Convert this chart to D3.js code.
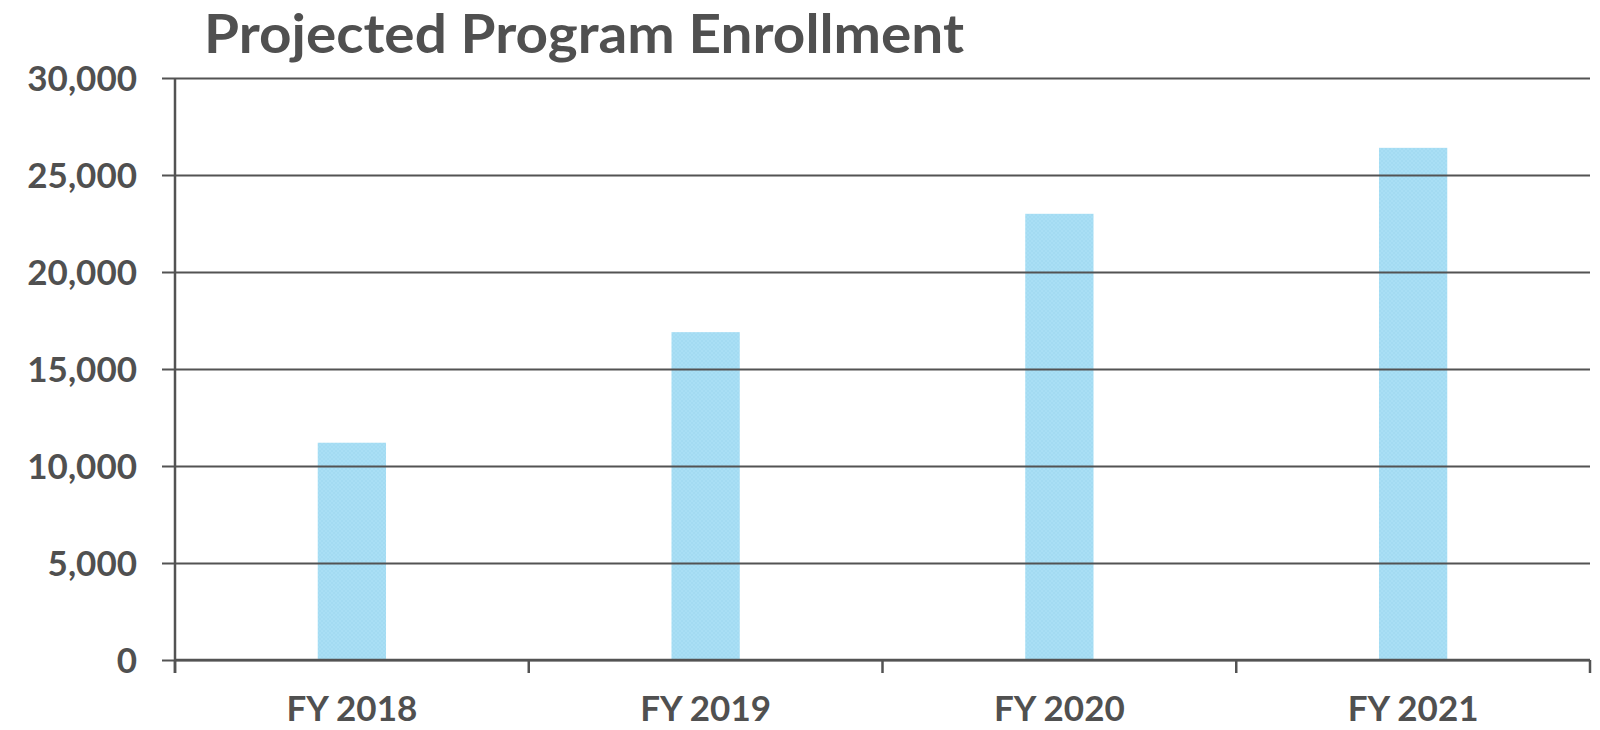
<!DOCTYPE html>
<html>
<head>
<meta charset="utf-8">
<script src="https://cdn.jsdelivr.net/npm/d3@7"></script>
<style>
  html, body { margin: 0; padding: 0; background: #fff; }
  svg { display: block; }
  text { font-family: Lato, "Open Sans", sans-serif; font-weight: bold; fill: #505050; }
</style>
</head>
<body>
<svg id="chart" width="1600" height="730"></svg>
<script>
'use strict';

let title = 'Projected Program Enrollment';
let categories = ['FY 2018', 'FY 2019', 'FY 2020', 'FY 2021'];
let enrollment = [11200, 16900, 23000, 26400];
let yTicks = [0, 5000, 10000, 15000, 20000, 25000, 30000];

let width = 1600, height = 730;
let margin = {top: 78, right: 10, bottom: 70, left: 175};
let plotW = width - margin.left - margin.right;
let plotH = height - margin.top - margin.bottom;
let tickLen = 13;
let ink = '#535353';

let svg = d3.select('#chart');

// checkered fill, close to the original's faint pattern
let defs = svg.append('defs');
let pat = defs.append('pattern')
	.attr('id', 'barFill')
	.attr('width', 4)
	.attr('height', 4)
	.attr('patternUnits', 'userSpaceOnUse');
pat.append('rect').attr('width', 4).attr('height', 4).attr('fill', '#a9dff5');
pat.append('rect').attr('width', 2).attr('height', 2).attr('fill', '#a3dbf2');
pat.append('rect').attr('x', 2).attr('y', 2).attr('width', 2).attr('height', 2).attr('fill', '#a3dbf2');

let x = d3.scaleBand()
	.domain(categories)
	.range([0, plotW])
	.paddingInner(0.807)
	.paddingOuter(0.4035);

let band = d3.scaleBand().domain(categories).range([0, plotW]);

let y = d3.scaleLinear()
	.domain([0, 30000])
	.range([plotH, 0]);

let g = svg.append('g')
	.attr('transform', `translate(${margin.left},${margin.top})`);

// bars
g.selectAll('rect.bar')
	.data(enrollment)
	.join('rect')
	.attr('class', 'bar')
	.attr('x', (d, i) => x(categories[i]))
	.attr('y', d => y(d))
	.attr('width', x.bandwidth())
	.attr('height', d => y(0) - y(d))
	.attr('fill', 'url(#barFill)');

// y axis + gridlines
let yAxis = g.append('g')
	.attr('transform', `translate(${-tickLen},0)`)
	.call(d3.axisLeft(y)
		.tickValues(yTicks)
		.tickFormat(d3.format(','))
		.tickSize(-(plotW + tickLen))
		.tickPadding(25));
yAxis.select('.domain').remove();
yAxis.selectAll('.tick line')
	.attr('stroke', ink)
	.attr('stroke-width', 2);
yAxis.selectAll('.tick text')
	.attr('font-size', 35)
	.attr('dy', '0.36em')
	.attr('fill', '#505050');

// x axis: baseline and category boundary ticks
let bounds = categories.map(c => band(c)).concat([plotW]);
g.append('line')
	.attr('x1', 0).attr('x2', plotW)
	.attr('y1', y(0)).attr('y2', y(0))
	.attr('stroke', ink).attr('stroke-width', 2.5);
g.selectAll('line.xtick')
	.data(bounds)
	.join('line')
	.attr('class', 'xtick')
	.attr('x1', d => d).attr('x2', d => d)
	.attr('y1', y(0)).attr('y2', y(0) + tickLen)
	.attr('stroke', ink).attr('stroke-width', 2.5);

// vertical axis line
g.append('line')
	.attr('x1', 0).attr('x2', 0)
	.attr('y1', y(30000)).attr('y2', y(0) + tickLen)
	.attr('stroke', ink).attr('stroke-width', 2.5);

g.selectAll('text.xlab')
	.data(categories)
	.join('text')
	.attr('class', 'xlab')
	.attr('x', d => band(d) + band.bandwidth() / 2)
	.attr('y', plotH + 61)
	.attr('text-anchor', 'middle')
	.attr('font-size', 35)
	.text(d => d);

svg.append('text')
	.attr('x', 204)
	.attr('y', 53)
	.attr('font-size', 53)
	.attr('textLength', 760)
	.attr('lengthAdjust', 'spacingAndGlyphs')
	.text(title);
</script>
</body>
</html>
